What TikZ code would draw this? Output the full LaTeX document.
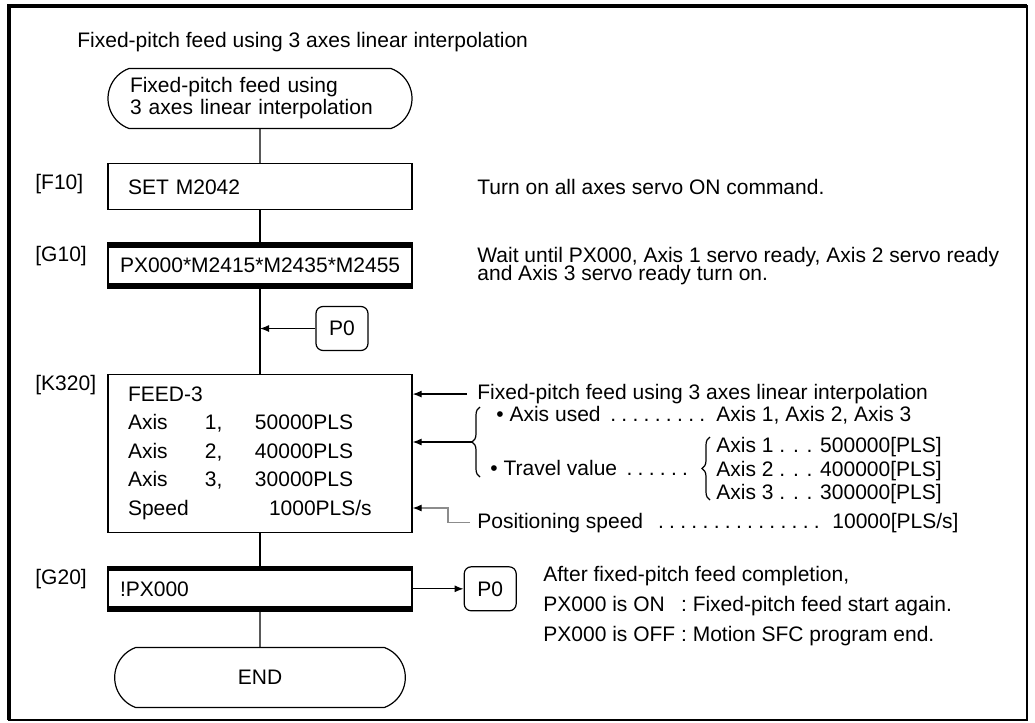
\documentclass[tikz,border=0pt]{standalone}
\usepackage{fontspec}
\setmainfont{Liberation Sans}
\usetikzlibrary{positioning, shapes.misc, arrows.meta, decorations.pathreplacing, calc}
\newcommand{\dotlead}{\leaders\hbox to 0.53em{\hss.\hss}\hfill}
\newcommand{\axisrow}[2]{\makebox[38.5pt][l]{Axis}\makebox[25pt][l]{#1,}#2}

\begin{document}
\begin{tikzpicture}[
        x=0.5pt, y=-0.5pt,
        font=\fontsize{10.5}{12.6}\selectfont,
        % --- Style Definitions ---
        frame_line/.style={line width=1pt},
        flow/.style={line width=0.6pt},
        termbox/.style={rounded rectangle, rounded rectangle arc length=140, draw, flow, minimum width=152pt, minimum height=30pt},
        stepbox/.style={rectangle, draw, flow, minimum width=152pt, minimum height=23pt, text width=132pt, align=left},
        transbox/.style={rectangle, draw, flow, minimum width=152pt, minimum height=22.5pt, text width=140pt, align=left,
            path picture={
                \fill (path picture bounding box.north west) rectangle ([yshift=-2.5pt]path picture bounding box.north east);
                \fill (path picture bounding box.south west) rectangle ([yshift=2.5pt]path picture bounding box.south east);}},
        jumpbox/.style={rectangle, draw, flow, rounded corners=3.5pt, minimum width=26pt, minimum height=22pt},
        steplabel/.style={anchor=base west, inner sep=0pt},
        note/.style={anchor=base west, inner sep=0pt},
        arrow/.style={flow, -{Latex[length=4.5pt, width=3.5pt]}},
        grayarrow/.style={line width=0.6pt, black!45, -{Latex[length=4.5pt, width=3.5pt, color=black]}},
        brace/.style={flow, decorate, decoration={brace, amplitude=4pt}}
    ]

        \useasboundingbox (0,0) rectangle (1035,723);

        % --- Frame ---
        \draw[frame_line] (9,5.5) rectangle (1027,720);
        \draw[line width=2pt] (9,720) -- (9,5.5) -- (1027,5.5);

        % --- Title ---
        \node[note] (title) at (77,47) {Fixed-pitch feed using 3 axes linear interpolation};

        % --- Program flow ---
        \node[termbox, inner xsep=0pt, text width=130pt, align=left, font=\fontsize{10.5}{11}\selectfont] (prog_start) at (260,98.5)
            {Fixed-pitch feed using\\3 axes linear interpolation};
        \node[stepbox, text depth=-1.5pt, below=17pt of prog_start] (f10) {SET M2042};
        \node[transbox, below=16pt of f10] (g10) {PX000*M2415*M2435*M2455};
        \node[stepbox, minimum height=79pt, font=\fontsize{10.5}{14.25}\selectfont, below=42.5pt of g10] (k320)
            {FEED-3\\\axisrow{1}{50000PLS}\\\axisrow{2}{40000PLS}\\\axisrow{3}{30000PLS}\\\makebox[70.5pt][l]{Speed}1000PLS/s};
        \node[transbox, below=16.5pt of k320] (g20) {!PX000};
        \node[termbox, below=17.5pt of g20] (prog_end) {END};

        % --- Jumps ---
        \node[jumpbox] (p0_in) at (342,328.5) {P0};
        \node[jumpbox, right=25.5pt of g20] (p0_out) {P0};

        % --- Step labels ---
        \node[steplabel] (lbl_f10) at (35,189) {[F10]};
        \node[steplabel] (lbl_g10) at (35,261) {[G10]};
        \node[steplabel] (lbl_k320) at (35,390) {[K320]};
        \node[steplabel] (lbl_g20) at (35,584) {[G20]};

        % --- Comments ---
        \node[note] (note_f10) at (477,194.5) {Turn on all axes servo ON command.};
        \node[note, anchor=north west, align=left, font={\fontsize{10.5}{9}\selectfont\lineskiplimit=-10pt}] (note_g10) at (477,247)
            {Wait until PX000, Axis 1 servo ready, Axis 2 servo ready\\and Axis 3 servo ready turn on.};

        \node[note] (note_fixed) at (477,399.5) {Fixed-pitch feed using 3 axes linear interpolation};
        \node[note] (note_used) at (496,421.5) {\makebox[110pt][l]{\textbullet\ Axis used\ \dotlead}Axis 1, Axis 2, Axis 3};
        \node[note] (note_travel) at (490,475.5) {\makebox[105pt][l]{\textbullet\ Travel value\ \dotlead}};
        \node[note, anchor=north west, align=left, font=\fontsize{10.5}{11.75}\selectfont] (note_axes) at (716,437)
            {Axis 1 . . . 500000[PLS]\\Axis 2 . . . 400000[PLS]\\Axis 3 . . . 300000[PLS]};
        \node[note] (note_speed) at (477,528) {\makebox[177.5pt][l]{Positioning speed\ \dotlead}10000[PLS/s]};

        \node[note, anchor=north west, font=\fontsize{10.5}{15}\selectfont] (note_g20) at (543,560)
            {\begin{tabular}{@{}l@{ : }l@{}}
                \multicolumn{2}{@{}l@{}}{After fixed-pitch feed completion,}\\
                PX000 is ON & Fixed-pitch feed start again.\\
                PX000 is OFF & Motion SFC program end.
             \end{tabular}};

        % --- Braces ---
        \draw[brace] (480,477) -- (480,407);
        \coordinate (brace_used_tip) at (472,442);
        \draw[brace] (710,500) -- (710,437);

        % --- Connectors ---
        \draw[flow] (prog_start) -- (f10);
        \draw[flow] (f10) -- (g10);
        \draw[flow] (g10) -- (k320);
        \draw[flow] (k320) -- (g20);
        \draw[flow] (g20) -- (prog_end);
        \draw[arrow] (p0_in.west) -- (p0_in.west -| g10.south);
        \draw[arrow] (g20.east) -- (p0_out.west);

        \draw[arrow] ([xshift=-5pt]note_fixed.west) -- (note_fixed.west -| k320.east);
        \draw[arrow] (brace_used_tip) -- (brace_used_tip -| k320.east);
        \coordinate (speed_bend) at (448,508);
        \draw[grayarrow] ([xshift=-3.5pt]note_speed.west) -| (speed_bend) -- (speed_bend -| k320.east);

    \end{tikzpicture}
\end{document}
